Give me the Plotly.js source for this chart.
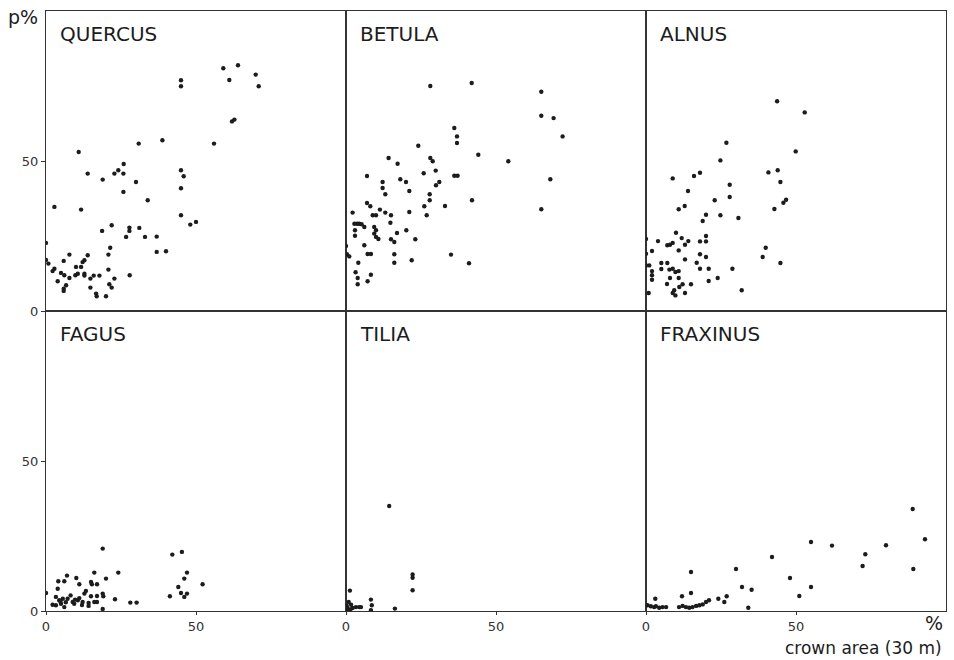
<!DOCTYPE html>
<html><head><meta charset="utf-8">
<script src="https://cdn.plot.ly/plotly-3.0.1.min.js"></script>
<style>html,body{margin:0;padding:0;background:#fff}</style>
</head><body>
<div id="chart" style="width:954px;height:660px"></div>
<script>
const panelNames = ["QUERCUS","BETULA","ALNUS","FAGUS","TILIA","FRAXINUS"];
const tickVals = [0, 50];
const tickText = ["0", "50"];

const quercusX = [0,0,0.8,2.8,2.2,2.8,3.9,5,6.1,5.9,7.8,6.7,5.9,5.9,7.8,10,9.8,10.6,11.7,12.2,12.8,12.8,12.8,10.9,11.7,13.9,13.9,14.8,15.9,17.8,14.8,16.7,16.9,20,18.7,18.9,20.8,20.8,21.4,21.1,21.9,21.9,22.8,22.8,24.1,25.8,25.9,25.8,26.7,27.8,27.8,27.9,30,30.9,31.1,33,33.9,36.9,36.9,40,38.8,45,45,45,45.9,45,45,48.1,50,56,59.1,61.1,64,62,62.8,69.9,70.9];
const quercusY = [22.7,17,15.8,34.7,13.3,14.1,9.9,12.7,11.9,16.7,18.8,8.6,7.4,6.7,11,14.7,11.9,12.4,14.7,16.3,16.9,12.4,11.8,53,33.8,45.8,18.6,10.8,11.8,11.8,7.8,5.8,4.9,4.9,26.7,43.8,13.8,18.8,21.1,8.9,7.8,28.6,10.8,45.8,46.9,45.8,49,39.7,24.7,27.8,26.7,11.9,43,55.8,27.7,24.7,36.9,24.8,19.7,19.9,56.9,76.9,74.9,46.9,44.9,40.9,31.9,28.8,29.7,55.8,80.9,77,81.9,63.2,63.8,78.8,74.9];

const betulaX = [0,0.3,1.1,2.2,2.8,3.7,4.4,5.2,6.1,3,3,4.1,3.2,3.9,3.9,7.2,8.3,6.1,7.2,8.3,7,7,8.1,8.9,10,9.4,10,9.4,10,10.8,11.3,13.1,12.2,12.2,13.1,14.2,14.8,15,15,16.1,16.1,16.1,17,17.2,18.1,20,20.1,21.1,21.1,21.9,23.1,24.1,25.9,26.1,26.9,27.9,27.9,28.1,28.1,28.9,29.9,30,31.1,33,35,36.1,36.1,37.2,37,37,41,41.9,42,44.1,54.1,65.1,65.1,65.1,68.1,69.2,72.2];
const betulaY = [21.7,18.9,18.2,32.8,29.1,29.1,29.1,28.9,28,26.9,25.1,16.1,12.9,11,8.9,9.9,12.1,21.9,19,19,45,36,34.9,31.9,31.9,28,26.9,25.8,24.7,24,33.8,32.8,43,41,38.9,51,29.4,31.9,23.9,23,18.9,16.1,26,49.1,43.9,43,26.9,40,33,16.9,23.9,55.1,45.9,34.9,31.9,38.9,36.9,75,51,49.9,46.8,41.9,43,35,18.8,61,45.1,45.1,58.2,56,15.9,76,36.9,52.1,49.9,73.1,65.1,33.9,43.9,64.3,58.2];

const alnusX = [0,0,0,1.1,2,2,2,2,0.9,4,5.1,5.1,7.1,7.1,8,8.9,7.8,8.9,9.8,10.9,8,10.9,7,8.9,10,10.9,8.9,9.8,9.4,11.1,12.2,10.9,12.9,11.9,13,14.1,13,13,14,15,16,18,16.9,18,20,18,20,18,20.9,18.9,20,20,20.9,22.9,23.9,24.8,24.8,26.8,27.9,27.9,28.8,30.8,31.9,38.9,39.9,40.8,42.8,43.7,43.9,44.8,44.8,45.8,46.7,49.9,52.9];
const alnusY = [24,19.1,15.2,15.2,20,13.3,11.9,10.4,6,23.3,16,14,16,21.9,22.1,22.7,13.8,14.1,13,13.3,11,11,9,44.2,26.1,20.2,6,5.2,6.9,8,8.9,33.9,35,24.3,22.1,23.3,17.2,6,40,8.9,45,46.1,16.1,23.2,23.2,18.9,18,14.1,14.1,30,32.1,25,10,36.9,11,50.2,31.9,56.1,42.1,38,14.1,31,6.9,18,21.1,46.2,34,69.9,46.9,43,16,36.1,37.1,53.2,66.2];

const fagusX = [0,2.2,3.3,3.9,4.1,3.3,4.4,5,5.6,6.1,6.1,7,7.2,8.2,8.9,9.4,10.6,11.1,10.1,11.1,12.2,12.8,13.3,14.2,14.2,15,15.3,16.1,15,16.1,17,17,17,18.9,18.9,19.1,18.9,20,23,24.1,28.1,30.2,41.3,42.1,44.1,45.3,45,46.1,47,46.1,47,52.2,4.8,6.6,9.7,12];
const fagusY = [6,2.1,4.7,7.4,9.9,1.9,3.6,2.4,4.1,1.3,9.9,11.8,4.1,5.2,3,2.4,3.6,4.3,11,8.9,3,5.8,6.7,1.7,2.7,9.7,8.9,12.8,4.9,3,8.9,5,3,20.8,5.8,4.9,0.7,10.8,3.9,12.8,2.8,2.8,4.9,18.8,8,19.7,6,4.7,5.8,10.8,12.8,8.9,3.2,2.9,3.8,2];

const tiliaX = [1.3,0.9,1.7,2.2,0.5,1.4,3.3,4.4,5,8.3,8.6,8.3,14.4,16.3,22.2,22.2,22.2,0.2,0.6];
const tiliaY = [6.8,3,2.1,1,1,0.5,1.3,1.3,1.3,3.8,1.9,0.3,35,0.8,12.2,11.1,6.9,1.8,0.3];

const fraxinusX = [0.5,1.6,2.7,3.3,4.4,5.5,6.7,3.1,11,12.2,13.3,14.4,15.5,16.7,12,15,15,17.8,18.9,20,21,24.1,26.1,26.9,30,32,34.1,35.2,42,48,51.1,55,55,62,72.2,73.1,80,88.9,89.1,93];
const fraxinusY = [1.9,1.6,1.3,1.6,1.1,1.3,1.3,4.1,1.3,1.7,1.3,1.1,1.3,1.7,4.9,6,13,1.9,2.2,3,3.6,4.1,3,4.9,14,8,1.1,7.1,18,11,5,23,8,21.8,15,18.9,21.9,34,14,23.9];

const xs = [quercusX, betulaX, alnusX, fagusX, tiliaX, fraxinusX];
const ys = [quercusY, betulaY, alnusY, fagusY, tiliaY, fraxinusY];

const ink = '#1c1c1c';
const traces = xs.map((x, i) => ({
  type: 'scatter', mode: 'markers',
  x: x, y: ys[i],
  xaxis: 'x' + (i === 0 ? '' : i + 1),
  yaxis: 'y' + (i === 0 ? '' : i + 1),
  marker: {color: ink, size: 4.4},
  showlegend: false, hoverinfo: 'skip'
}));

const layout = {
  width: 954, height: 660,
  margin: {l: 46, r: 8, t: 11, b: 49},
  paper_bgcolor: '#ffffff', plot_bgcolor: '#ffffff',
  font: {family: 'DejaVu Sans, sans-serif', color: ink},
  annotations: [],
  showlegend: false
};
const xDomains = [[0, 1/3], [1/3, 2/3], [2/3, 1]];
const yDomains = [[0.5, 1], [0, 0.5]];
for (let i = 0; i < 6; i++) {
  const row = Math.floor(i / 3), col = i % 3;
  const sfx = i === 0 ? '' : String(i + 1);
  const bottom = row === 1, left = col === 0;
  layout['xaxis' + sfx] = {
    domain: xDomains[col], range: [0, 100], anchor: 'y' + sfx,
    showgrid: false, zeroline: false, showline: true, mirror: true,
    linecolor: '#333', linewidth: 1,
    tickmode: 'array', tickvals: tickVals, ticktext: tickText,
    showticklabels: bottom, ticks: bottom ? 'outside' : '', ticklen: 3, tickcolor: '#333',
    tickfont: {size: 13, color: '#333', family: 'DejaVu Sans, sans-serif'},
    fixedrange: true
  };
  layout['yaxis' + sfx] = {
    domain: yDomains[row], range: [0, 100], anchor: 'x' + sfx,
    showgrid: false, zeroline: false, showline: true, mirror: true,
    linecolor: '#333', linewidth: 1,
    tickmode: 'array', tickvals: tickVals, ticktext: tickText,
    showticklabels: left, ticks: left ? 'outside' : '', ticklen: 4, tickcolor: '#333',
    tickfont: {size: 13, color: '#333', family: 'DejaVu Sans, sans-serif'},
    fixedrange: true
  };
  layout.annotations.push({
    text: panelNames[i], xref: 'x' + sfx + ' domain', yref: 'y' + sfx + ' domain',
    x: 0.04, y: 0.924, xanchor: 'left', yanchor: 'middle', showarrow: false,
    font: {size: 20, color: ink, family: 'DejaVu Sans, sans-serif'}
  });
}
layout.annotations.push({
  text: 'p%', xref: 'paper', yref: 'paper', x: -0.045, y: 0.99,
  xanchor: 'left', yanchor: 'middle', showarrow: false,
  font: {size: 19, color: ink}
});
layout.annotations.push({
  text: '%', xref: 'paper', yref: 'paper', x: 0.999, y: -0.02,
  xanchor: 'right', yanchor: 'middle', showarrow: false,
  font: {size: 19, color: ink}
});
layout.annotations.push({
  text: 'crown area (30 m)', xref: 'paper', yref: 'paper', x: 0.998, y: -0.062,
  xanchor: 'right', yanchor: 'middle', showarrow: false,
  font: {size: 17, color: ink}
});

Plotly.newPlot('chart', traces, layout, {staticPlot: true, displayModeBar: false});
</script>
</body></html>
